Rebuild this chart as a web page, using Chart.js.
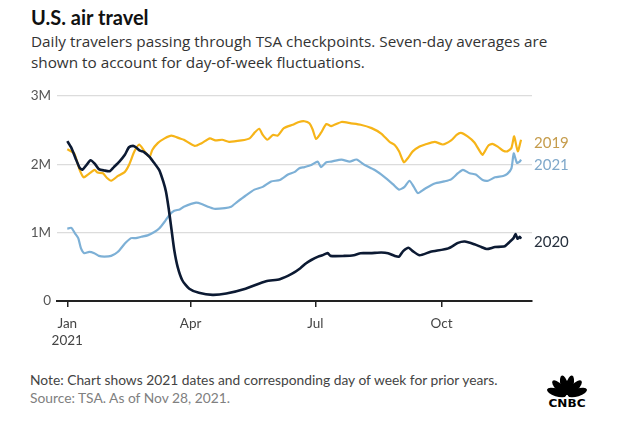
<!DOCTYPE html>
<html>
<head>
<meta charset="utf-8">
<script src="https://cdn.jsdelivr.net/npm/chart.js@4.4.1/dist/chart.umd.min.js"></script>
<style>
  body { margin: 0; background: #fff; font-family: Lato, "Open Sans", sans-serif; }
  #wrap { position: relative; width: 620px; height: 427px; overflow: hidden; }
  #title { position: absolute; left: 31px; top: 5px; font-size: 20px; font-weight: 700; color: #111; }
  #sub { position: absolute; left: 31px; top: 31px; width: 590px; font-family: "Open Sans", sans-serif; font-size: 15.3px; line-height: 21px; color: #333; white-space: nowrap; }
  #chartBox { position: absolute; left: 0; top: 80px; }
  #note { position: absolute; left: 30px; top: 371px; font-size: 13.8px; color: #444; }
  #source { position: absolute; left: 30px; top: 389px; font-size: 13.8px; color: #808080; }
  #logo { position: absolute; left: 545px; top: 369px; }
</style>
</head>
<body>
<div id="wrap">
  <div id="title">U.S. air travel</div>
  <div id="sub">Daily travelers passing through TSA checkpoints. Seven-day averages are<br>shown to account for day-of-week fluctuations.</div>
  <div id="chartBox"><canvas id="c" width="620" height="275"></canvas></div>
  <div id="note">Note: Chart shows 2021 dates and corresponding day of week for prior years.</div>
  <div id="source">Source: TSA. As of Nov 28, 2021.</div>
  <svg id="logo" width="44" height="40" viewBox="0 0 44 40">
    <g fill="#000" transform="translate(22,27)">
      <ellipse cx="0" cy="-11" rx="3.8" ry="10" transform="rotate(-72)"/>
      <ellipse cx="0" cy="-11" rx="3.8" ry="10" transform="rotate(-43)"/>
      <ellipse cx="0" cy="-11" rx="3.8" ry="10" transform="rotate(-14)"/>
      <ellipse cx="0" cy="-11" rx="3.8" ry="10" transform="rotate(14)"/>
      <ellipse cx="0" cy="-11" rx="3.8" ry="10" transform="rotate(43)"/>
      <ellipse cx="0" cy="-11" rx="3.8" ry="10" transform="rotate(72)"/>
    </g>
    <text x="22" y="38" text-anchor="middle" font-family="DejaVu Sans" font-weight="bold" font-size="10" textLength="37" lengthAdjust="spacingAndGlyphs" fill="#000">CNBC</text>
  </svg>
</div>
<script>
// day of year (Jan 1 = 0) and seven-day average travelers, in millions
const days2020 = [0, 3, 6, 9, 11, 14, 17, 20, 23, 27, 31, 34, 38, 42, 45, 48, 50, 53, 56, 60, 63, 67, 70, 72, 74, 76, 78, 80.5, 84, 89, 96, 106, 116, 130, 145, 155, 164, 170, 174, 178, 183, 186, 190, 192, 202, 209, 214, 221, 229, 234, 239, 242, 245, 249, 252, 257, 265, 278, 285, 290, 297, 302, 306, 312, 319, 323, 325.5, 327, 328.5, 330, 331];
const vals2020 = [2.34, 2.24, 2.09, 1.95, 1.92, 1.99, 2.06, 2.01, 1.93, 1.91, 1.90, 1.96, 2.04, 2.14, 2.25, 2.27, 2.25, 2.20, 2.18, 2.11, 2.03, 1.92, 1.75, 1.60, 1.35, 1.05, 0.75, 0.50, 0.30, 0.18, 0.12, 0.09, 0.11, 0.18, 0.29, 0.32, 0.40, 0.48, 0.55, 0.60, 0.65, 0.67, 0.70, 0.66, 0.66, 0.67, 0.70, 0.70, 0.71, 0.70, 0.66, 0.65, 0.73, 0.78, 0.73, 0.67, 0.72, 0.77, 0.85, 0.87, 0.83, 0.79, 0.76, 0.79, 0.80, 0.87, 0.92, 0.98, 0.91, 0.94, 0.91];

const days2019 = [0, 5, 9, 12, 15, 17, 20, 22, 26, 29, 32, 37, 42, 45, 49, 52.5, 56, 60, 62, 66, 71, 76, 82, 85, 93, 98, 104, 108, 113, 118, 127, 133, 136.5, 140, 142.6, 146, 150, 153.5, 158, 164.5, 169, 173, 176.6, 179, 181.5, 185, 189, 192.5, 200, 207, 214, 222, 229, 235, 239, 242, 245.5, 248.4, 252, 257, 261, 268, 274, 280, 284, 287, 292, 297, 301, 303, 307, 310, 314, 318, 321, 324, 326, 328.6, 331];
const vals2019 = [2.22, 2.16, 1.92, 1.81, 1.85, 1.88, 1.92, 1.88, 1.87, 1.80, 1.76, 1.83, 1.89, 1.99, 2.19, 2.29, 2.20, 2.11, 2.21, 2.31, 2.38, 2.42, 2.38, 2.36, 2.27, 2.31, 2.38, 2.35, 2.36, 2.33, 2.35, 2.38, 2.46, 2.52, 2.43, 2.36, 2.43, 2.42, 2.53, 2.58, 2.62, 2.63, 2.60, 2.51, 2.37, 2.46, 2.59, 2.56, 2.62, 2.60, 2.58, 2.53, 2.45, 2.33, 2.28, 2.19, 2.03, 2.09, 2.19, 2.26, 2.29, 2.33, 2.29, 2.35, 2.43, 2.46, 2.41, 2.32, 2.19, 2.14, 2.27, 2.30, 2.26, 2.20, 2.19, 2.24, 2.41, 2.19, 2.36];

const days2021 = [0, 3, 5.6, 8, 10, 12.4, 16, 19.7, 23, 27, 32, 37, 42, 46.5, 50, 54, 58.6, 63.5, 67, 71, 74.5, 78, 82, 85, 94, 98, 102.5, 107, 115, 119.5, 124, 130, 136.5, 142.6, 148.7, 155, 161, 166, 169, 173, 178, 182.7, 185, 189, 192.5, 200, 206, 211, 217, 224, 231, 237.5, 242, 246, 249.6, 252.8, 255.7, 260.6, 268, 275, 280, 285, 288.6, 293.5, 298, 303, 307, 312, 318, 321, 324, 325.7, 328, 330, 331];
const vals2021 = [1.06, 1.07, 0.99, 0.92, 0.77, 0.70, 0.72, 0.70, 0.66, 0.65, 0.66, 0.72, 0.84, 0.92, 0.92, 0.94, 0.96, 1.01, 1.06, 1.16, 1.26, 1.32, 1.34, 1.38, 1.44, 1.42, 1.38, 1.35, 1.36, 1.38, 1.45, 1.54, 1.63, 1.67, 1.75, 1.77, 1.85, 1.89, 1.94, 1.96, 1.99, 2.04, 1.96, 2.03, 2.04, 2.07, 2.04, 2.07, 1.99, 1.92, 1.82, 1.71, 1.63, 1.67, 1.76, 1.67, 1.58, 1.64, 1.72, 1.75, 1.78, 1.87, 1.92, 1.87, 1.85, 1.77, 1.76, 1.81, 1.83, 1.86, 1.94, 2.16, 2.02, 2.04, 2.07];

const tickDays = [0, 90, 181, 273];
const tickLabels = [["Jan", "2021"], "Apr", "Jul", "Oct"];
const yTickLabels = ["0", "1M", "2M", "3M"];

function toPoints(days, vals) {
  return days.map((d, i) => ({ x: d, y: vals[i] * 1e6 }));
}

const series = [
  { label: "2020", days: days2020, vals: vals2020, color: "#0c1a33", text: "#26303d", width: 2.6 },
  { label: "2019", days: days2019, vals: vals2019, color: "#f6b418", text: "#c59c4c", width: 2.2 },
  { label: "2021", days: days2021, vals: vals2021, color: "#7db0d6", text: "#7fa8ca", width: 2.2 }
];

// end-of-line labels, nudged apart so they do not collide
const endLabels = {
  id: "endLabels",
  afterDatasetsDraw(chart) {
    const ctx = chart.ctx;
    const y = chart.scales.y;
    const items = series.map(s => ({ s, py: y.getPixelForValue(s.vals[s.vals.length - 1] * 1e6) }))
      .sort((a, b) => a.py - b.py);
    for (let i = 1; i < items.length; i++) {
      if (items[i].py - items[i - 1].py < 22) items[i].py = items[i - 1].py + 22;
    }
    ctx.save();
    ctx.font = "15px Lato";
    ctx.textBaseline = "middle";
    items.forEach(it => {
      ctx.fillStyle = it.s.text;
      ctx.fillText(it.s.label, chart.chartArea.right + 2, it.py + 3);
    });
    ctx.restore();
  }
};

new Chart(document.getElementById("c"), {
  type: "line",
  data: {
    datasets: series.map(s => ({
      label: s.label,
      data: toPoints(s.days, s.vals),
      borderColor: s.color,
      borderWidth: s.width,
      pointRadius: 0,
      tension: 0.2,
      fill: false
    }))
  },
  options: {
    responsive: false,
    animation: false,
    layout: { padding: { top: 16, right: 88, left: 0, bottom: 0 } },
    plugins: { legend: { display: false }, tooltip: { enabled: false } },
    scales: {
      x: {
        type: "linear",
        min: -7.5,
        max: 339,
        afterBuildTicks: axis => { axis.ticks = tickDays.map(v => ({ value: v })); },
        afterFit: axis => { axis.height = 54; },
        ticks: {
          callback: (v, i) => tickLabels[i],
          color: "#444",
          font: { family: "Lato", size: 13.5, lineHeight: 1.25 },
          padding: 8,
          maxRotation: 0,
          autoSkip: false
        },
        grid: { drawOnChartArea: false, drawTicks: true, tickLength: 6, color: "#222", lineWidth: 1.5 },
        border: { display: true, color: "#222", width: 2 }
      },
      y: {
        min: 0,
        max: 3e6,
        afterBuildTicks: axis => { axis.ticks = [0, 1e6, 2e6, 3e6].map(v => ({ value: v })); },
        afterFit: axis => { axis.width = 57; },
        ticks: {
          callback: (v, i) => yTickLabels[i],
          color: "#555",
          font: { family: "Lato", size: 13.5 },
          padding: 6
        },
        grid: { color: "#dcdcdc", lineWidth: 1.2, drawTicks: false },
        border: { display: false }
      }
    }
  },
  plugins: [endLabels]
});
</script>
</body>
</html>
